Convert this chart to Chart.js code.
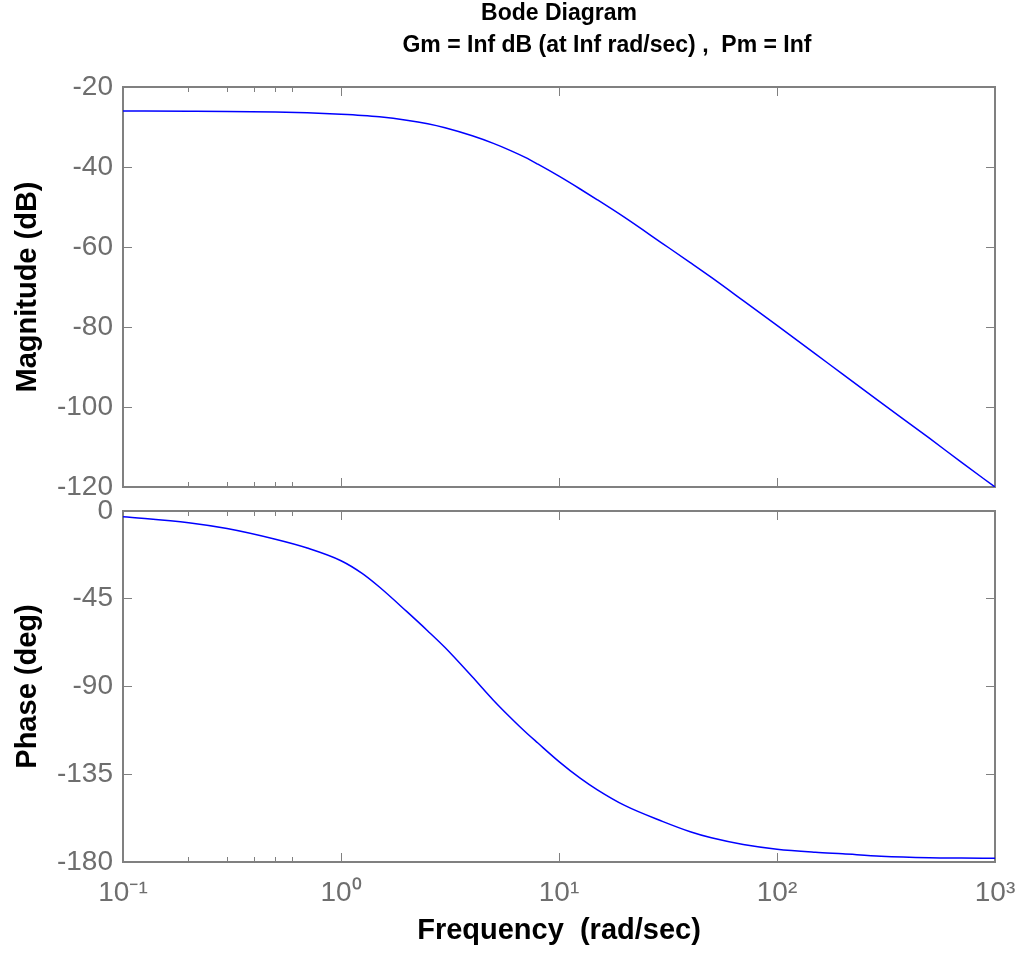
<!DOCTYPE html>
<html>
<head>
<meta charset="utf-8">
<title>Bode Diagram</title>
<script src="https://cdn.jsdelivr.net/npm/chart.js@4/dist/chart.umd.min.js"></script>
<style>
  body { margin: 0; background: #ffffff; overflow: hidden; }
  canvas { position: absolute; left: 0; }
  #magChart { top: 0; }
  #phaseChart { top: 500px; }
</style>
</head>
<body>
<canvas id="magChart" width="1017" height="500"></canvas>
<canvas id="phaseChart" width="1017" height="453"></canvas>
<script>
// frequency points (rad/sec)
const freq = [0.1, 0.2, 0.3, 0.5, 0.7, 1, 1.25, 1.5, 2, 2.5, 3, 4, 5, 6, 7, 8, 10, 12.5, 15, 20, 30, 40, 50, 70, 100, 150, 200, 300, 500, 700, 1000];
// magnitude in dB
const magDb = [-26.0, -26.05, -26.1, -26.25, -26.45, -26.8, -27.1, -27.45, -28.3, -29.2, -30.2, -32.2, -34.1, -35.9, -37.6, -39.3, -42.3, -45.5, -48.2, -52.6, -59.2, -63.9, -67.6, -73.4, -79.6, -86.7, -91.8, -98.9, -107.8, -113.8, -120.0];
// phase in degrees
const phaseDeg = [-2.9, -6.0, -9.0, -14.5, -19.0, -25.5, -32.0, -39.0, -51.5, -61.5, -70.0, -85.0, -97.0, -106.0, -113.2, -119.0, -128.5, -137.0, -143.0, -151.0, -159.3, -164.5, -167.6, -171.0, -173.4, -175.0, -175.8, -177.0, -177.8, -178.0, -178.1];

// tick labels
const decades = [0.1, 1, 10, 100, 1000];
const xTickLabels = ['10⁻¹', '10⁰', '10¹', '10²', '10³'];

const titleLines = ['Bode Diagram', '               Gm = Inf dB (at Inf rad/sec) ,  Pm = Inf'];

const axisGray = '#808080';
const textGray = '#6e6e6e';
const fontName = "'Liberation Sans', Arial, sans-serif";

// minor ticks 2..9 in each decade
const minorTicks = [];
for (let i = 0; i < decades.length - 1; i++) {
    for (let k = 2; k <= 9; k++) {
        minorTicks.push(decades[i] * k);
    }
}

// helper for one log x axis (only tick marks, optionally labels)
function logAxis(position, tickValues, tickLength, height, showLabels, weight) {
    return {
        type: 'logarithmic',
        position: position,
        min: 0.1,
        max: 1000,
        weight: weight,
        afterBuildTicks: (scale) => {
            scale.ticks = tickValues.map(v => ({ value: v }));
        },
        afterFit: (scale) => {
            scale.height = height;
            scale.paddingLeft = 0;
            scale.paddingRight = 0;
        },
        ticks: {
            display: showLabels,
            autoSkip: false,
            maxRotation: 0,
            minRotation: 0,
            padding: 23,
            color: textGray,
            font: { family: fontName, size: 28 },
            callback: (value, index) => xTickLabels[index]
        },
        grid: {
            drawOnChartArea: false,
            drawTicks: true,
            tickLength: tickLength,
            tickColor: axisGray,
            tickWidth: 1
        },
        border: { display: true, color: axisGray, width: 2 }
    };
}

// helper for y axis (left with labels, right only marks)
function linAxis(position, min, max, step, showLabels, titleText) {
    return {
        type: 'linear',
        position: position,
        min: min,
        max: max,
        afterBuildTicks: (scale) => {
            const list = [];
            for (let v = min; v <= max; v += step) list.push({ value: v });
            scale.ticks = list;
        },
        afterFit: (scale) => {
            scale.width = position === 'left' ? 123 : 0;
            scale.paddingTop = 0;
            scale.paddingBottom = 0;
        },
        ticks: {
            display: showLabels,
            padding: 19,
            color: textGray,
            font: { family: fontName, size: 28 }
        },
        grid: {
            drawOnChartArea: false,
            drawTicks: true,
            tickLength: -9,
            tickColor: axisGray,
            tickWidth: 1
        },
        border: { display: true, color: axisGray, width: 2 },
        title: {
            display: !!titleText,
            text: titleText || '',
            color: '#000000',
            font: { family: fontName, size: 29, weight: 'bold' },
            padding: { top: 11, bottom: 0 }
        }
    };
}

const lineStyle = {
    borderColor: '#0000ff',
    borderWidth: 1.5,
    pointRadius: 0,
    fill: false,
    cubicInterpolationMode: 'monotone'
};

// Grafik magnitude (atas)
new Chart(document.getElementById('magChart').getContext('2d'), {
    type: 'line',
    data: {
        datasets: [{
            ...lineStyle,
            label: 'Magnitude',
            data: freq.map((f, i) => ({ x: f, y: magDb[i] })),
            xAxisID: 'x',
            yAxisID: 'y'
        }]
    },
    options: {
        responsive: false,
        animation: false,
        layout: { padding: { left: 0, right: 22, top: 0, bottom: 13 } },
        plugins: {
            legend: { display: false },
            tooltip: { enabled: false },
            title: {
                display: true,
                fullSize: false,
                text: titleLines,
                color: '#000000',
                font: { family: fontName, size: 23, weight: 'bold', lineHeight: '32px' },
                padding: { top: -2, bottom: 25 }
            }
        },
        scales: {
            x: logAxis('bottom', decades, -9, 0, false, 0),
            xMinor: logAxis('bottom', minorTicks, -5, 0, false, 1),
            xTop: logAxis('top', decades, -9, 0, false, 0),
            xTopMinor: logAxis('top', minorTicks, -5, 0, false, 1),
            y: linAxis('left', -120, -20, 20, true, 'Magnitude (dB)'),
            yR: linAxis('right', -120, -20, 20, false, '')
        }
    }
});

// Grafik phase (bawah)
const freqAxis = logAxis('bottom', decades, -9, 91, true, 1);
freqAxis.title = {
    display: true,
    text: 'Frequency  (rad/sec)',
    color: '#000000',
    font: { family: fontName, size: 29, weight: 'bold' },
    padding: { top: 0, bottom: 5 }
};

new Chart(document.getElementById('phaseChart').getContext('2d'), {
    type: 'line',
    data: {
        datasets: [{
            ...lineStyle,
            label: 'Phase',
            data: freq.map((f, i) => ({ x: f, y: phaseDeg[i] })),
            xAxisID: 'x',
            yAxisID: 'y'
        }]
    },
    options: {
        responsive: false,
        animation: false,
        layout: { padding: { left: 0, right: 22, top: 11, bottom: 0 } },
        plugins: {
            legend: { display: false },
            tooltip: { enabled: false }
        },
        scales: {
            x: freqAxis,
            xMinor: logAxis('bottom', minorTicks, -5, 0, false, 0),
            xTop: logAxis('top', decades, -9, 0, false, 0),
            xTopMinor: logAxis('top', minorTicks, -5, 0, false, 1),
            y: linAxis('left', -180, 0, 45, true, 'Phase (deg)'),
            yR: linAxis('right', -180, 0, 45, false, '')
        }
    }
});
</script>
</body>
</html>
